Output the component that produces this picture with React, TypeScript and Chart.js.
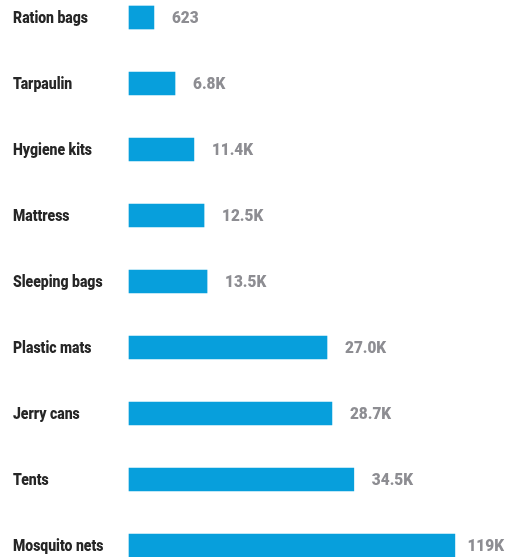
import React, { useEffect, useRef } from "react";
import { Chart, registerables } from "chart.js";

Chart.register(...registerables);

const categories = [
  "Ration bags",
  "Tarpaulin",
  "Hygiene kits",
  "Mattress",
  "Sleeping bags",
  "Plastic mats",
  "Jerry cans",
  "Tents",
  "Mosquito nets",
];

// Labelled quantities shown next to the bars
const quantities = [623, 6800, 11400, 12500, 13500, 27000, 28700, 34500, 119000];

// Bar lengths as drawn in the picture (in thousands, scaled so the largest bar = 119)
const barLengths = [9.1, 16.8, 23.7, 27.4, 28.5, 72.3, 74.1, 82.1, 119];

const FONT = "Roboto, sans-serif";

function fmt(v: number): string {
  if (v < 1000) return String(v);
  if (v < 100000) return (v / 1000).toFixed(1) + "K";
  return Math.round(v / 1000) + "K";
}

function drawCondensed(ctx: CanvasRenderingContext2D, text: string, x: number, y: number, sx: number) {
  ctx.save();
  ctx.translate(x, y);
  ctx.scale(sx, 1);
  ctx.fillText(text, 0, 0);
  ctx.restore();
}

const textPlugin = {
  id: "textPlugin",
  afterDatasetsDraw(chart: any) {
    const ctx = chart.ctx as CanvasRenderingContext2D;
    const meta = chart.getDatasetMeta(0);
    const yScale = chart.scales.y;
    ctx.save();
    ctx.textAlign = "left";
    ctx.textBaseline = "middle";
    // category labels
    ctx.font = `900 16px ${FONT}`;
    ctx.fillStyle = "#262626";
    chart.data.labels.forEach((lab: string, i: number) => {
      drawCondensed(ctx, lab, 13, yScale.getPixelForValue(i) + 1, 0.875);
    });
    // value labels
    ctx.font = `900 16px ${FONT}`;
    ctx.fillStyle = "#8d8d92";
    const sx = 0.96;
    meta.data.forEach((bar: any, i: number) => {
      const txt = fmt(quantities[i]);
      const w = ctx.measureText(txt).width * sx;
      const x = Math.min(bar.x + 18, chart.width - 2 - w);
      drawCondensed(ctx, txt, x, bar.y + 1, sx);
    });
    ctx.restore();
  },
};

export default function App() {
  const ref = useRef<HTMLCanvasElement>(null);
  useEffect(() => {
    document.body.style.margin = "0";
    const chart = new Chart(ref.current!, {
      type: "bar",
      data: {
        labels: categories,
        datasets: [
          {
            data: barLengths,
            backgroundColor: "#079fdc",
            borderWidth: 0,
            barThickness: 23,
            clip: false as any,
          },
        ],
      },
      options: {
        indexAxis: "y",
        animation: false,
        responsive: false,
        maintainAspectRatio: false,
        layout: { padding: { left: 13, right: 21, top: 17.5, bottom: 11.5 } },
        plugins: { legend: { display: false }, tooltip: { enabled: false } },
        scales: {
          x: { display: false, min: 0, max: 130 },
          y: {
            offset: false,
            grid: { display: false },
            border: { display: false },
            ticks: { display: false },
            afterFit(scale: any) {
              scale.width = 116;
            },
          },
        },
      },
      plugins: [textPlugin],
    });
    return () => chart.destroy();
  }, []);
  return (
    <div style={{ position: "absolute", left: 0, top: 0, width: 506, height: 557 }}>
      <canvas ref={ref} width={506} height={557} style={{ width: 506, height: 557 }} />
    </div>
  );
}
